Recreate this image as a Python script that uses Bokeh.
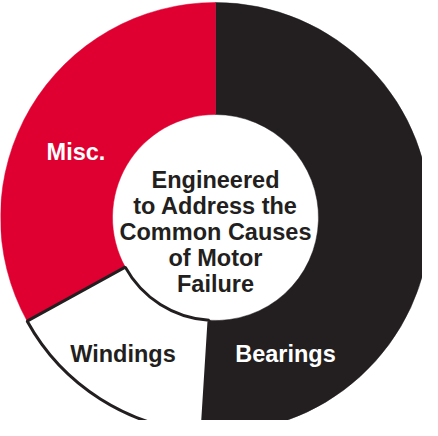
import math
from bokeh.plotting import figure
from bokeh.models import ColumnDataSource
from bokeh.core.properties import value
from bokeh.embed import file_html
from bokeh.resources import INLINE

# Data
categories = ["Bearings", "Windings", "Misc."]
shares = [51, 16, 33]
fill_colors = ["#231F20", "#FFFFFF", "#DF0031"]
line_colors = [None, "#231F20", None]
label_colors = ["#FFFFFF", "#231F20", "#FFFFFF"]
center_lines = ["Engineered", "to Address the", "Common Causes", "of Motor", "Failure"]

W, H = 422, 420
CX, CY = 215, 203
R_OUT, R_IN = 215, 103

total = float(sum(shares))
starts, ends = [], []
acc = 0.0
for s in shares:
    starts.append(math.pi / 2 - 2 * math.pi * acc / total)
    acc += s
    ends.append(math.pi / 2 - 2 * math.pi * acc / total)

p = figure(width=W, height=H, x_range=(0, W), y_range=(0, H),
           output_backend="svg", toolbar_location=None,
           min_border=0, outline_line_color=None,
           background_fill_color="white", border_fill_color="white")
p.axis.visible = False
p.grid.visible = False

for i, cat in enumerate(categories):
    src = ColumnDataSource(dict(x=[CX], y=[CY], s=[starts[i]], e=[ends[i]]))
    if line_colors[i] is None:
        p.annular_wedge(x="x", y="y", inner_radius=R_IN, outer_radius=R_OUT,
                        start_angle="s", end_angle="e", direction="clock",
                        fill_color=fill_colors[i], line_color=fill_colors[i],
                        line_width=0.5, source=src)
for i, cat in enumerate(categories):
    src = ColumnDataSource(dict(x=[CX], y=[CY], s=[starts[i]], e=[ends[i]]))
    if line_colors[i] is not None:
        p.annular_wedge(x="x", y="y", inner_radius=R_IN, outer_radius=R_OUT,
                        start_angle="s", end_angle="e", direction="clock",
                        fill_color=fill_colors[i], line_color=line_colors[i],
                        line_width=3, source=src)

# Category labels
label_x = [285, 122.5, 75.5]
label_y = [67, 67, 269]
p.text(x=label_x, y=label_y, text=categories, text_color=label_colors,
       text_align="center", text_baseline="alphabetic",
       text_font=value("Liberation Sans"), text_font_style="bold",
       text_font_size="23.5px")

# Center text
line_h = 26
top_baseline = 240.5
cy_list = [top_baseline - k * line_h for k in range(len(center_lines))]
p.text(x=[CX] * len(center_lines), y=cy_list, text=center_lines,
       text_color="#231F20", text_align="center", text_baseline="alphabetic",
       text_font=value("Liberation Sans"), text_font_style="bold",
       text_font_size="23.5px")

open("out.html", "w").write(file_html(p, INLINE))
